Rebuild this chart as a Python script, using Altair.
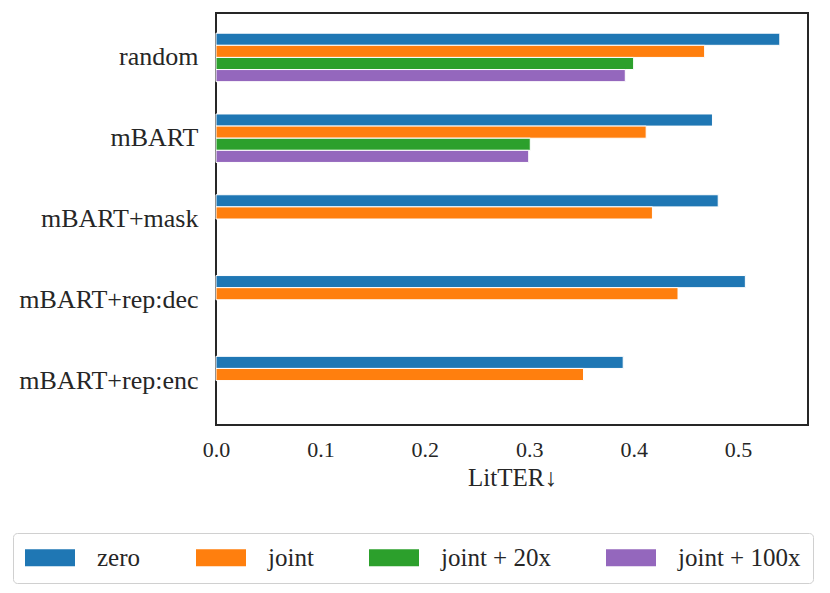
import altair as alt
import pandas as pd

categories = ["random", "mBART", "mBART+mask", "mBART+rep:dec", "mBART+rep:enc"]
series = ["zero", "joint", "joint + 20x", "joint + 100x"]
colors = ["#1f77b4", "#ff7f0e", "#2ca02c", "#9467bd"]

zero = [0.540, 0.4755, 0.481, 0.507, 0.390]
joint = [0.468, 0.412, 0.418, 0.4425, 0.352]
joint20 = [0.400, 0.301, None, None, None]
joint100 = [0.392, 0.2995, None, None, None]

rows = []
for s, vals in zip(series, [zero, joint, joint20, joint100]):
    for c, v in zip(categories, vals):
        if v is not None:
            rows.append({"model": c, "setting": s, "value": v})
df = pd.DataFrame(rows)

FONT = "Liberation Serif"
TXT = "#262626"

chart = alt.Chart(df).mark_bar(stroke="white", strokeWidth=1).encode(
    x=alt.X("value:Q", title="LitTER↓",
            scale=alt.Scale(domain=[0, 0.567], nice=False, zero=True),
            axis=alt.Axis(values=[0.0, 0.1, 0.2, 0.3, 0.4, 0.5], format=".1f",
                          grid=False, ticks=False, domain=False, labelFlush=False,
                          labelPadding=14, labelFontSize=22, titleFontSize=25,
                          titlePadding=5, titleFontWeight="normal")),
    y=alt.Y("model:N", sort=categories, title=None,
            scale=alt.Scale(paddingInner=0.4, paddingOuter=0.25),
            axis=alt.Axis(ticks=False, domain=False, labelPadding=18,
                          labelFontSize=26, labelLimit=400)),
    yOffset=alt.YOffset("setting:N", sort=series,
                        scale=alt.Scale(domain=series, paddingInner=0, paddingOuter=0)),
    color=alt.Color("setting:N", sort=series,
                    scale=alt.Scale(domain=series, range=colors),
                    legend=alt.Legend(title=None, orient="none", legendX=-203, legendY=520,
                                      direction="horizontal", columns=4,
                                      symbolType="M-1,-0.68H3V0.68H-1Z",
                                      symbolSize=625, symbolStrokeWidth=0,
                                      labelFontSize=25, labelOffset=47,
                                      columnPadding=55, padding=12,
                                      strokeColor="#d0d0d0", cornerRadius=4)),
).properties(
    width=592, height=412,
    autosize=alt.AutoSizeParams(type="none"),
    padding={"left": 208, "top": 5, "right": 14, "bottom": 160},
).configure(
    font=FONT,
).configure_axis(
    labelFont=FONT, titleFont=FONT, labelColor=TXT, titleColor=TXT,
).configure_legend(
    labelFont=FONT, labelColor=TXT,
).configure_view(
    stroke="#262626", strokeWidth=2,
)

chart.save("out.html", embed_options={"renderer": "svg", "actions": False})
